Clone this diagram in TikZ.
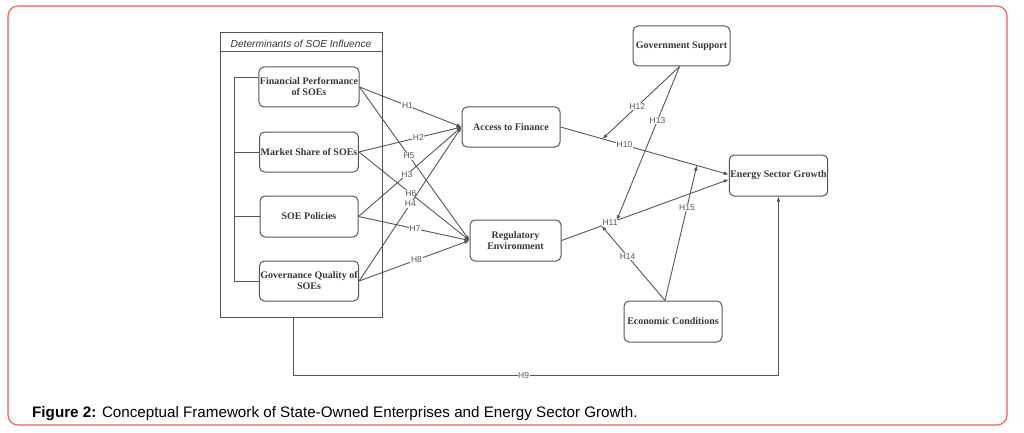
\documentclass[tikz,border=0pt]{standalone}
\usepackage{fontspec}
\setmainfont{Liberation Serif}
\newfontfamily\arial{Liberation Sans}
\usetikzlibrary{calc,arrows.meta}
\definecolor{framered}{RGB}{230,96,84}
\definecolor{ln}{RGB}{85,85,85}
\definecolor{txt}{RGB}{55,55,55}
\tikzset{
  box/.style={draw=ln, line width=1pt, rounded corners=5pt, align=center, inner sep=1pt,
    font=\fontsize{10}{11}\selectfont\bfseries, text=txt, minimum width=98pt, minimum height=40pt},
  arr/.style={draw=ln, line width=0.9pt, -{Latex[length=5pt,width=4pt]}},
  plain/.style={draw=ln, line width=0.9pt},
  lbl/.style={font=\arial\fontsize{8.5}{8.5}\selectfont, text=ln, fill=white, inner sep=0.6pt}
}
\begin{document}
\begin{tikzpicture}[x=1pt,y=-1pt]
\useasboundingbox (0,0) rectangle (1024,433);
\draw[framered, line width=1.1pt, rounded corners=10pt] (8,6) rectangle (1007,425);

% container
\node[draw=ln, line width=1pt, minimum width=162pt, minimum height=284pt, inner sep=0pt] (cont) at (301,175) {};
\draw[plain] (cont.north west) ++(0,19) coordinate (hl) -- (hl -| cont.east);
\node[font=\arial\itshape\fontsize{10.2}{10}\selectfont, text=txt] (title) at (301,43.5) {Determinants of SOE Influence};

% boxes
\node[box] (fin) at (309,87) {Financial Performance\\of SOEs};
\node[box] (mkt) at (309,152) {Market Share of SOEs};
\node[box, minimum height=41pt] (pol) at (309,216.5) {SOE Policies};
\node[box] (gov) at (309,281) {Governance Quality of\\SOEs};
\node[box] (acc) at (511,127) {Access to Finance};
\node[box, minimum width=91pt, minimum height=41pt] (reg) at (515.5,240.5) {Regulatory\\Environment};
\node[box, minimum width=97pt] (gsup) at (681.5,46) {Government Support};
\node[box, minimum width=97pt, minimum height=41pt] (esg) at (778.5,175.5) {Energy Sector Growth};
\node[box, minimum height=41pt] (eco) at (673,321.5) {Economic Conditions};

% bracket
\coordinate (b1) at ($([yshift=10pt]fin.west)+(-24,0)$);
\draw[plain] ([yshift=10pt]fin.west) -- (b1) -- (b1 |- gov.west) -- (gov.west);
\draw[plain] (b1 |- mkt.west) -- (mkt.west);
\draw[plain] (b1 |- pol.west) -- (pol.west);

% first layer
\draw[arr] (fin.east) -- node[lbl,pos=0.47]{H1} (acc.west);
\draw[arr] (fin.east) -- node[lbl,pos=0.45]{H5} (reg.west);
\draw[arr] (mkt.east) -- node[lbl,pos=0.58]{H2} (acc.west);
\draw[arr] (mkt.east) -- node[lbl,pos=0.47]{H6} (reg.west);
\draw[arr] (pol.east) -- node[lbl,pos=0.47]{H3} (acc.west);
\draw[arr] (pol.east) -- node[lbl,pos=0.51]{H7} (reg.west);
\draw[arr] (gov.east) -- node[lbl,pos=0.5]{H4} (acc.west);
\draw[arr] (gov.east) -- node[lbl,pos=0.52]{H8} (reg.west);

% second layer
\coordinate (e1) at ([yshift=1pt]esg.west);
\coordinate (e2) at ([yshift=-4pt]esg.west);
\draw[arr] (acc.east) -- node[lbl,pos=0.38]{H10} (e1);
\draw[arr] (reg.east) -- node[lbl,pos=0.29]{H11} (e2);
\coordinate (m12) at ($(acc.east)!0.25!(e1)$);
\coordinate (m15) at ($(acc.east)!0.81!(e1)$);
\coordinate (m13) at ($(reg.east)!0.33!(e2)$);
\coordinate (m14) at ($(reg.east)!0.24!(e2)$);
\coordinate (gs) at ([xshift=-2pt]gsup.south);
\coordinate (ec) at ([xshift=-8pt]eco.north);
\draw[arr] (gs) -- node[lbl,pos=0.55]{H12} (m12);
\draw[arr] (gs) -- node[lbl,pos=0.35]{H13} (m13);
\draw[arr] (ec) -- node[lbl,pos=0.59]{H14} (m14);
\draw[arr] (ec) -- node[lbl,pos=0.69]{H15} (m15);

% H9
\coordinate (c0) at ([xshift=-8pt]cont.south);
\coordinate (c1) at ($(c0)+(0,58)$);
\draw[arr] (c0) -- (c1) -- node[lbl,pos=0.475]{H9} (c1 -| esg.south) -- (esg.south);

% caption
\node[anchor=base west, font=\arial\fontsize{15.2}{16}\selectfont, text=black, inner sep=0pt] (cap) at (32,417) {\textbf{Figure 2:} Conceptual Framework of State-Owned Enterprises and Energy Sector Growth.};
\end{tikzpicture}
\end{document}
